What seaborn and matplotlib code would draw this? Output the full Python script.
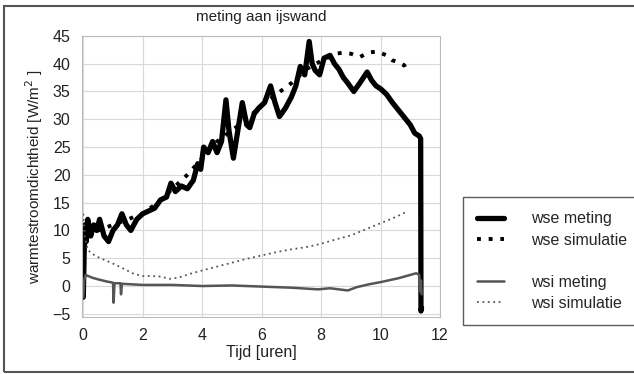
import numpy as np
import pandas as pd
import matplotlib
matplotlib.use("Agg")
import matplotlib.pyplot as plt
from matplotlib.lines import Line2D
from matplotlib.patches import Rectangle
import seaborn as sns

sns.set_theme(style="whitegrid")
plt.rcParams['font.family'] = ['Liberation Sans', 'DejaVu Sans']

# wse meting (measured, outside surface)
wse_meting_t = [0.00, 0.03, 0.06, 0.10, 0.15, 0.25, 0.35, 0.45, 0.55, 0.70, 0.85, 1.00,
                1.15, 1.30, 1.45, 1.60, 1.80, 2.00, 2.20, 2.40, 2.60, 2.80, 2.95, 3.10,
                3.30, 3.50, 3.70, 3.85, 3.95, 4.05, 4.20, 4.35, 4.50, 4.65, 4.80, 4.90,
                5.05, 5.20, 5.35, 5.50, 5.60, 5.75, 5.90, 6.10, 6.30, 6.45, 6.60, 6.80,
                7.00, 7.15, 7.30, 7.45, 7.60, 7.70, 7.80, 7.95, 8.10, 8.30, 8.45, 8.60,
                8.75, 8.90, 9.10, 9.30, 9.55, 9.70, 9.85, 10.00, 10.20, 10.40, 10.55, 10.70,
                10.85, 11.00, 11.15, 11.30, 11.35, 11.36, 11.38]
wse_meting_q = [-2.0, 6.0, 11.0, 8.0, 12.0, 9.0, 11.0, 10.0, 12.0, 9.0, 8.0, 10.0,
                11.0, 13.0, 11.0, 10.0, 12.0, 13.0, 13.5, 14.0, 15.5, 16.0, 18.5, 17.0,
                18.0, 17.5, 19.0, 22.0, 21.0, 25.0, 24.0, 26.0, 24.0, 26.0, 33.5, 28.0,
                23.0, 28.0, 33.0, 29.0, 28.5, 31.0, 32.0, 33.0, 36.0, 33.0, 30.5, 32.0,
                34.0, 36.0, 39.5, 38.0, 44.0, 40.0, 38.8, 38.0, 41.0, 41.5, 40.0, 39.0,
                37.5, 36.5, 35.0, 36.5, 38.5, 37.0, 36.0, 35.5, 34.5, 33.0, 32.0, 31.0,
                30.0, 29.0, 27.5, 27.0, 26.5, -4.5, -4.0]

# wse simulatie
wse_sim_t = [0.1, 0.5, 1.0, 1.5, 2.0, 2.5, 3.0, 3.5, 4.0, 4.5, 5.0, 5.5, 6.0, 6.5,
             7.0, 7.5, 8.0, 8.5, 8.75, 9.0, 9.3, 9.6, 9.9, 10.2, 10.4, 10.6, 10.8, 10.9]
wse_sim_q = [9.0, 10.0, 11.0, 12.0, 13.0, 15.0, 17.5, 20.0, 23.0, 26.0, 28.0, 30.0,
             32.5, 34.5, 36.5, 39.0, 40.5, 41.8, 42.0, 41.8, 41.2, 42.0, 42.2, 41.5,
             40.6, 40.3, 39.7, 38.3]

# wsi meting (measured, inside surface)
wsi_meting_t = [0.00, 0.03, 0.08, 0.30, 0.50, 0.80, 1.00, 1.02, 1.05, 1.25, 1.27, 1.30,
                2.00, 3.00, 4.00, 5.00, 6.00, 7.00, 7.90, 8.30, 8.90, 9.20, 9.60, 10.00,
                10.60, 11.00, 11.20, 11.30, 11.33, 11.36, 11.38]
wsi_meting_q = [-2.0, 1.0, 2.0, 1.5, 1.2, 0.8, 0.6, -3.0, 0.5, 0.5, -1.5, 0.4,
                0.2, 0.2, 0.0, 0.1, -0.1, -0.3, -0.6, -0.4, -0.8, -0.2, 0.3, 0.7,
                1.4, 2.0, 2.3, 2.0, -1.0, 1.0, -1.5]

# wsi simulatie
wsi_sim_t = [0.0, 0.05, 0.15, 0.3, 0.5, 0.8, 1.1, 1.4, 1.7, 2.0, 2.3, 2.6, 2.9, 3.2,
             3.6, 4.0, 4.5, 5.0, 5.5, 6.0, 6.5, 7.0, 7.5, 8.0, 8.5, 9.0, 9.5, 10.0,
             10.5, 10.9]
wsi_sim_q = [13.0, 9.0, 6.5, 5.8, 5.2, 4.5, 3.8, 3.0, 2.2, 1.8, 1.8, 1.7, 1.3, 1.5,
             2.2, 2.8, 3.5, 4.2, 4.9, 5.5, 6.1, 6.6, 7.0, 7.6, 8.4, 9.1, 10.2, 11.3,
             12.4, 13.4]

x_ticks = [0, 2, 4, 6, 8, 10, 12]
y_ticks = [-5, 0, 5, 10, 15, 20, 25, 30, 35, 40, 45]

fig = plt.figure(figsize=(6.34, 3.74), dpi=100)
ax = fig.add_axes([0.129, 0.152, 0.565, 0.752])

series = [
    (wse_meting_t, wse_meting_q, dict(color="black", linewidth=3.8)),
    (wse_sim_t, wse_sim_q, dict(color="black", linewidth=2.8, linestyle=(0, (1, 2)))),
    (wsi_meting_t, wsi_meting_q, dict(color="#555555", linewidth=1.8)),
    (wsi_sim_t, wsi_sim_q, dict(color="#555555", linewidth=1.3, linestyle=(0, (1, 2)))),
]
for t, q, kw in series:
    df = pd.DataFrame({"t": t, "q": q})
    sns.lineplot(data=df, x="t", y="q", ax=ax, sort=False, estimator=None, **kw)

ax.set_xlim(-0.05, 12)
ax.set_ylim(-5.6, 45)
ax.set_xticks(x_ticks)
ax.set_yticks(y_ticks)
ax.tick_params(labelsize=11.5, pad=2, colors="#222222")
ax.grid(color="#d8d8d8", linewidth=0.8)
for s in ax.spines.values():
    s.set_color("#bbbbbb")
    s.set_linewidth(0.8)

ax.set_title("meting aan ijswand", fontsize=11, color="#222222", pad=11)
ax.set_xlabel("Tijd [uren]", fontsize=11.5, color="#222222", labelpad=1)
ax.set_ylabel("warmtestroomdichtheid [W/m$^2$ ]", fontsize=11, color="#222222", labelpad=5)

handles = [
    Line2D([], [], color="black", linewidth=3.8),
    Line2D([], [], color="black", linewidth=2.8, linestyle=(0, (1, 2))),
    Line2D([], [], color="none"),
    Line2D([], [], color="#555555", linewidth=1.8),
    Line2D([], [], color="#555555", linewidth=1.3, linestyle=(0, (1, 2))),
]
labels = ["wse meting", "wse simulatie", "", "wsi meting", "wsi simulatie"]
leg = fig.legend(handles, labels, loc="upper left", bbox_to_anchor=(0.730, 0.473),
                 fontsize=11.5, frameon=True, fancybox=False, handlelength=1.7,
                 handletextpad=1.7, labelspacing=0.38, borderpad=0.9,
                 borderaxespad=0)
leg.get_frame().set_edgecolor("#333333")
leg.get_frame().set_linewidth(1.0)

# outer frame around the figure
fig.add_artist(Rectangle((0.007, 0.006), 1.2, 0.978, transform=fig.transFigure,
                         fill=False, edgecolor="#555555", linewidth=1.5))

fig.savefig("out.png", dpi=100)
